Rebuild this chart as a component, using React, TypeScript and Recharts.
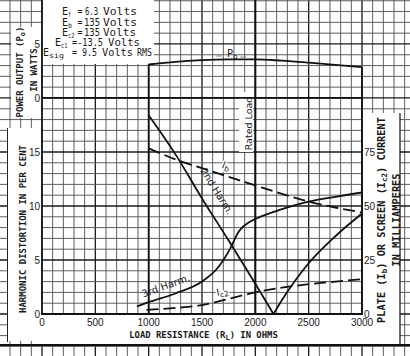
import { ComposedChart, Line, XAxis, YAxis, ReferenceLine } from 'recharts'

// Po, Ib are read at the same load steps
const loadOhms = [1000, 1250, 1500, 1750, 2000, 2250, 2500, 2750, 3000]
const powerWatts = [3.1, 3.35, 3.5, 3.57, 3.58, 3.45, 3.27, 3.07, 2.85]
const plateMa = [76.7, 71.6, 67.5, 63.5, 59.5, 55.6, 52.1, 49.3, 47]

const screenOhms = [980, 1250, 1500, 1750, 2000, 2250, 2500, 2750, 3000]
const screenMa = [1.9, 2.8, 4.1, 7.0, 10.0, 12.2, 13.8, 15.0, 16.1]

// 2nd harmonic dips to zero, so it's kept as two branches
const secondHarmOhmsA = [1000, 1250, 1500, 1750, 2000, 2170]
const secondHarmA = [18.4, 14.8, 10.7, 6.8, 2.8, 0]
const secondHarmOhmsB = [2170, 2250, 2500, 2750, 3000]
const secondHarmB = [0, 1.3, 4.7, 7.2, 9.3]

const thirdHarmOhms = [890, 1000, 1250, 1500, 1650, 1750, 1850, 1950, 2000, 2250, 2500, 2750, 3000]
const thirdHarm = [0.7, 1.1, 1.9, 3.0, 4.3, 5.8, 7.7, 8.55, 8.8, 9.7, 10.4, 10.85, 11.25]

const ohmTicks = [0, 500, 1000, 1500, 2000, 2500, 3000]
const pctTicks = [0, 5, 10, 15, 20, 25] // 20 / 25 double as 0 W / 5 W
const maTicks = [0, 25, 50, 75]

const W = 410
const H = 356
const PLOT_L = 42
const PLOT_R = 362
const PLOT_B = 314
const X_MAX = 3000
const Y_MAX = 29.07

const zip = (xs: number[], ys: number[]) => xs.map((r, i) => ({ r, v: ys[i] }))

const gx = (ohm: number) => PLOT_L + (ohm / X_MAX) * (PLOT_R - PLOT_L)
const gy = (pct: number) => PLOT_B - (pct / Y_MAX) * PLOT_B

// white patches where the printed labels sit on the graph paper
const blanks = [
  { x: 43, y: 0, w: 111, h: 64 },
  { x: 11, y: 27, w: 30, h: 91 },
  { x: 8, y: 128, w: 33, h: 213 },
  { x: 40, y: 315, w: 360, h: 30 },
  { x: 363, y: 113, w: 37, h: 232 },
  { x: 239, y: 92, w: 14, h: 60 },
]

function GraphPaper() {
  const cols: number[] = []
  for (let k = -4; k <= 34; k++) cols.push(k * 100)
  const rows: number[] = []
  for (let k = -3; k <= 29; k++) rows.push(k)
  return (
    <svg width={W} height={H} style={{ position: 'absolute', left: 0, top: 0 }}>
      <rect width={W} height={H} fill="#fff" />
      {cols.map(o => (
        <line key={'c' + o} x1={gx(o)} x2={gx(o)} y1={0} y2={H}
          stroke={o % 500 === 0 ? '#1a1a1a' : '#555'} strokeWidth={o % 500 === 0 ? 1.3 : 0.95} />
      ))}
      {rows.map(p => (
        <line key={'r' + p} x1={0} x2={W} y1={gy(p)} y2={gy(p)}
          stroke={p % 5 === 0 ? '#1a1a1a' : '#555'} strokeWidth={p % 5 === 0 ? 1.3 : 0.95} />
      ))}
      {blanks.map((b, i) => (
        <rect key={i} x={b.x} y={b.y} width={b.w} height={b.h} fill="#fff" />
      ))}
      <line x1={0} x2={W} y1={345} y2={345} stroke="#111" strokeWidth={2} />
      <line x1={400} x2={400} y1={113} y2={345} stroke="#111" strokeWidth={1.2} />
      <line x1={7.5} x2={7.5} y1={128} y2={342} stroke="#222" strokeWidth={1} />
    </svg>
  )
}

const mono = 'DejaVu Sans Mono, monospace'
const sans = 'DejaVu Sans, sans-serif'
const ink = '#1a1a1a'

// operating conditions block, [text, x, width, isSub]
const conditions: { y: number; parts: [string, number, number, boolean][] }[] = [
  { y: 15, parts: [['E', 62, 6, false], ['f', 68, 3, true], ['=', 77.5, 5, false], ['6.3', 85, 13, false], ['Volts', 103, 34, false]] },
  { y: 25.5, parts: [['E', 62, 6, false], ['b', 68, 4, true], ['=', 77.5, 5, false], ['135', 84, 16, false], ['Volts', 103, 34, false]] },
  { y: 36, parts: [['E', 62, 6, false], ['c2', 68, 6.5, true], ['=', 77.5, 5, false], ['135', 84, 16, false], ['Volts', 103, 33, false]] },
  { y: 46, parts: [['E', 55, 6, false], ['c1', 61, 6.5, true], ['=-13.5', 72, 31, false], ['Volts', 108, 32, false]] },
  { y: 56, parts: [['E', 43, 6, false], ['sig', 49, 15, true], ['=', 72, 5, false], ['9.5', 82, 15, false], ['Volts', 102, 31, false], ['RMS', 137, 15, false]] },
]

const halo = { paintOrder: 'stroke' as const, stroke: '#fff', strokeWidth: 3, strokeLinejoin: 'round' as const }

function Annotations() {
  return (
    <svg width={W} height={H} style={{ position: 'absolute', left: 0, top: 0, pointerEvents: 'none' }}>
      {conditions.map((row, i) => (
        <g key={i} fontFamily={mono} fill={ink}>
          {row.parts.map(([t, x, w, sub], j) => (
            <text key={j} x={x} y={sub ? row.y + 2.2 : row.y} fontSize={sub ? 7 : 10}
              textLength={w} lengthAdjust="spacingAndGlyphs">{t}</text>
          ))}
        </g>
      ))}

      {/* axis titles */}
      <g fontFamily={mono} fontWeight={700} fill={ink} textAnchor="middle">
        <text transform="translate(22.5,72) rotate(-90)" fontSize={9}>
          POWER OUTPUT (P<tspan fontSize={7} dy={2}>o</tspan><tspan dy={-2}>)</tspan>
        </text>
        <text transform="translate(37,70) rotate(-90)" fontSize={9}>IN WATTS</text>
        <text transform="translate(25.5,229) rotate(-90)" fontSize={9}>HARMONIC DISTORTION IN PER CENT</text>
        <text x={203.5} y={338} fontSize={8.9}>
          LOAD RESISTANCE (R<tspan fontSize={7} dy={2}>L</tspan><tspan dy={-2}>) IN OHMS</tspan>
        </text>
        <text transform="translate(385,220) rotate(-90)" fontSize={10.3}>
          PLATE (I<tspan fontSize={7.5} dy={2}>b</tspan><tspan dy={-2}>) OR SCREEN (I</tspan>
          <tspan fontSize={7.5} dy={2}>c2</tspan><tspan dy={-2}>) CURRENT</tspan>
        </text>
        <text transform="translate(399.5,220) rotate(-90)" fontSize={10.3}>IN MILLIAMPERES</text>
      </g>

      {/* curve labels */}
      <g fontFamily={sans} fill={ink} fontSize={10}>
        <text x={227} y={57}>P<tspan fontSize={7.5} dy={2}>o</tspan></text>
        <line x1={216} x2={222} y1={56} y2={56} stroke="#777" strokeWidth={0.8} />
        <line x1={240} x2={246} y1={57} y2={57} stroke="#777" strokeWidth={0.8} />
        <text transform="translate(225,169) rotate(20)" textAnchor="middle" style={halo}>
          I<tspan fontSize={7.5} dy={2}>b</tspan>
        </text>
        <text transform="translate(214,193) rotate(58)" textAnchor="middle">2nd Harm.</text>
        <text transform="translate(167,289) rotate(-20)" textAnchor="middle">3rd Harm.</text>
        <text transform="translate(223,295) rotate(-12)" textAnchor="middle" style={halo}>
          I<tspan fontSize={7.5} dy={2}>c2</tspan>
        </text>
        <text transform="translate(252,123.5) rotate(-90)" textAnchor="middle" fontSize={9.5}>Rated Load</text>
      </g>
    </svg>
  )
}

const tickStyle = { fill: ink, fontSize: 10, fontFamily: 'Liberation Sans, Arial, sans-serif' }

export default function App() {
  return (
    <div style={{ position: 'absolute', left: 0, top: 0, width: W, height: H, overflow: 'hidden', background: '#fff' }}>
      <GraphPaper />
      <div style={{ position: 'absolute', left: 0, top: 0 }}>
        <ComposedChart width={W} height={H} margin={{ top: 0, right: 0, bottom: 0, left: 0 }}>
          <XAxis
            dataKey="r"
            type="number"
            domain={[0, X_MAX]}
            ticks={ohmTicks}
            interval={0}
            height={H - PLOT_B}
            tickSize={0}
            tickMargin={5}
            tick={tickStyle}
            axisLine={{ stroke: '#111', strokeWidth: 2 }}
            allowDataOverflow
          />
          <YAxis
            yAxisId="pct"
            type="number"
            domain={[0, Y_MAX]}
            ticks={pctTicks}
            interval={0}
            width={PLOT_L}
            tickSize={0}
            tickMargin={2}
            tick={tickStyle}
            tickFormatter={(v: number) => (v >= 20 ? String(v - 20) : String(v))}
            axisLine={{ stroke: '#111', strokeWidth: 1.5 }}
            allowDataOverflow
          />
          <YAxis yAxisId="watts" type="number" domain={[-20, Y_MAX - 20]} hide allowDataOverflow />
          <YAxis
            yAxisId="ma"
            orientation="right"
            type="number"
            domain={[0, Y_MAX * 5]}
            ticks={maTicks}
            interval={0}
            width={W - PLOT_R}
            tickSize={0}
            tickMargin={2}
            tick={{ ...tickStyle, textAnchor: 'start' }}
            axisLine={false}
            allowDataOverflow
          />

          <ReferenceLine yAxisId="pct" y={20} stroke="#111" strokeWidth={1.8} />
          <ReferenceLine yAxisId="pct" x={2000} stroke="#111" strokeWidth={2} />
          <ReferenceLine yAxisId="watts" segment={[{ x: 1000, y: -20 }, { x: 1000, y: powerWatts[0] }]} stroke="#111" strokeWidth={1.8} />
          <ReferenceLine yAxisId="watts" segment={[{ x: 3000, y: -20 }, { x: 3000, y: powerWatts[powerWatts.length - 1] }]} stroke="#111" strokeWidth={1.8} />

          <Line yAxisId="watts" data={zip(loadOhms, powerWatts)} dataKey="v" type="monotone"
            stroke="#111" strokeWidth={1.8} dot={false} activeDot={false} isAnimationActive={false} />
          <Line yAxisId="ma" data={zip(loadOhms, plateMa)} dataKey="v" type="monotone"
            stroke="#111" strokeWidth={1.8} strokeDasharray="12 5" dot={false} activeDot={false} isAnimationActive={false} />
          <Line yAxisId="ma" data={zip(screenOhms, screenMa)} dataKey="v" type="monotone"
            stroke="#111" strokeWidth={1.8} strokeDasharray="12 5" dot={false} activeDot={false} isAnimationActive={false} />
          <Line yAxisId="pct" data={zip(secondHarmOhmsA, secondHarmA)} dataKey="v" type="monotone"
            stroke="#111" strokeWidth={1.8} dot={false} activeDot={false} isAnimationActive={false} />
          <Line yAxisId="pct" data={zip(secondHarmOhmsB, secondHarmB)} dataKey="v" type="monotone"
            stroke="#111" strokeWidth={1.8} dot={false} activeDot={false} isAnimationActive={false} />
          <Line yAxisId="pct" data={zip(thirdHarmOhms, thirdHarm)} dataKey="v" type="monotone"
            stroke="#111" strokeWidth={1.8} dot={false} activeDot={false} isAnimationActive={false} />
        </ComposedChart>
      </div>
      <Annotations />
    </div>
  )
}
